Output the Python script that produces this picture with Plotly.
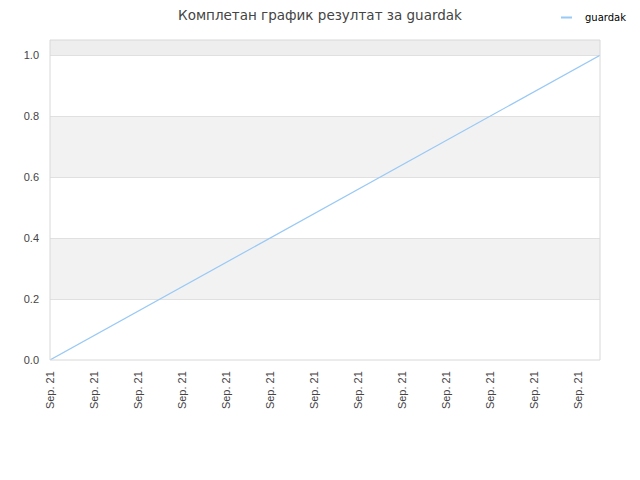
import plotly.graph_objects as go

# Data
series_name = "guardak"
x_values = [0, 12.5]
y_values = [0.0, 1.0]
x_tick_vals = list(range(13))
x_tick_labels = ["Sep. 21"] * 13
y_tick_vals = [0.0, 0.2, 0.4, 0.6, 0.8, 1.0]
y_max = 1.05
title_text = "Комплетан график резултат за guardak"

line_color = "#99c9f5"

fig = go.Figure()
fig.add_trace(go.Scatter(
    x=x_values, y=y_values, mode="lines", name=series_name,
    line=dict(color=line_color, width=1.2), showlegend=False,
))

H = 480
L, R, T, B = 42, 48, 32, 128
PW = 640 - L - R
PH = H - T - B

def px_x(px):
    return (px - L) / PW

def px_y(py):
    return 1 - (py - T) / PH

shapes = []
bands = [(y_tick_vals[1], y_tick_vals[2]), (y_tick_vals[3], y_tick_vals[4])]
for y0, y1 in bands:
    shapes.append(dict(type="rect", xref="paper", yref="y", x0=0, x1=1, y0=y0, y1=y1,
                       fillcolor="#f2f2f2", line=dict(width=0), layer="below"))
shapes.append(dict(type="rect", xref="paper", yref="y", x0=0, x1=1, y0=y_tick_vals[-1], y1=y_max,
                   fillcolor="#eeeeee", line=dict(width=0), layer="below"))
shapes.append(dict(type="rect", xref="paper", yref="paper", x0=0, x1=1, y0=0, y1=1,
                   line=dict(color="#d8d8d8", width=1), layer="above"))
# legend sample line
shapes.append(dict(type="line", xref="paper", yref="paper",
                   x0=px_x(553), x1=px_x(564), y0=px_y(9.5), y1=px_y(9.5),
                   line=dict(color=line_color, width=2)))

annotations = [dict(text=series_name, xref="paper", yref="paper",
                    x=px_x(575), y=px_y(9.5), xanchor="left", yanchor="middle",
                    showarrow=False,
                    font=dict(family="DejaVu Sans", size=10, color="#000000"))]

fig.update_layout(
    width=640, height=480,
    margin=dict(l=L, r=R, t=T, b=B),
    paper_bgcolor="white", plot_bgcolor="white",
    title=dict(text=title_text, x=(320 - 8) / 640, xanchor="center", y=1 - 7.5 / H, yanchor="middle",
               font=dict(family="DejaVu Sans", size=13.5, color="#444444")),
    showlegend=False,
    shapes=shapes,
    annotations=annotations,
    xaxis=dict(range=[0, 12.5], tickvals=x_tick_vals, ticktext=x_tick_labels,
               tickangle=-90, showgrid=False, zeroline=False, showline=False,
               ticks="", ticklabelstandoff=8,
               tickfont=dict(family="Liberation Sans", size=11, color="#444444")),
    yaxis=dict(range=[0, y_max], tickvals=y_tick_vals, tickformat=".1f",
               showgrid=True, gridcolor="#e0e0e0", gridwidth=1, zeroline=False,
               showline=False, ticks="", ticklabelstandoff=10,
               tickfont=dict(family="Liberation Sans", size=11, color="#444444")),
)

fig.write_html("out.html")
